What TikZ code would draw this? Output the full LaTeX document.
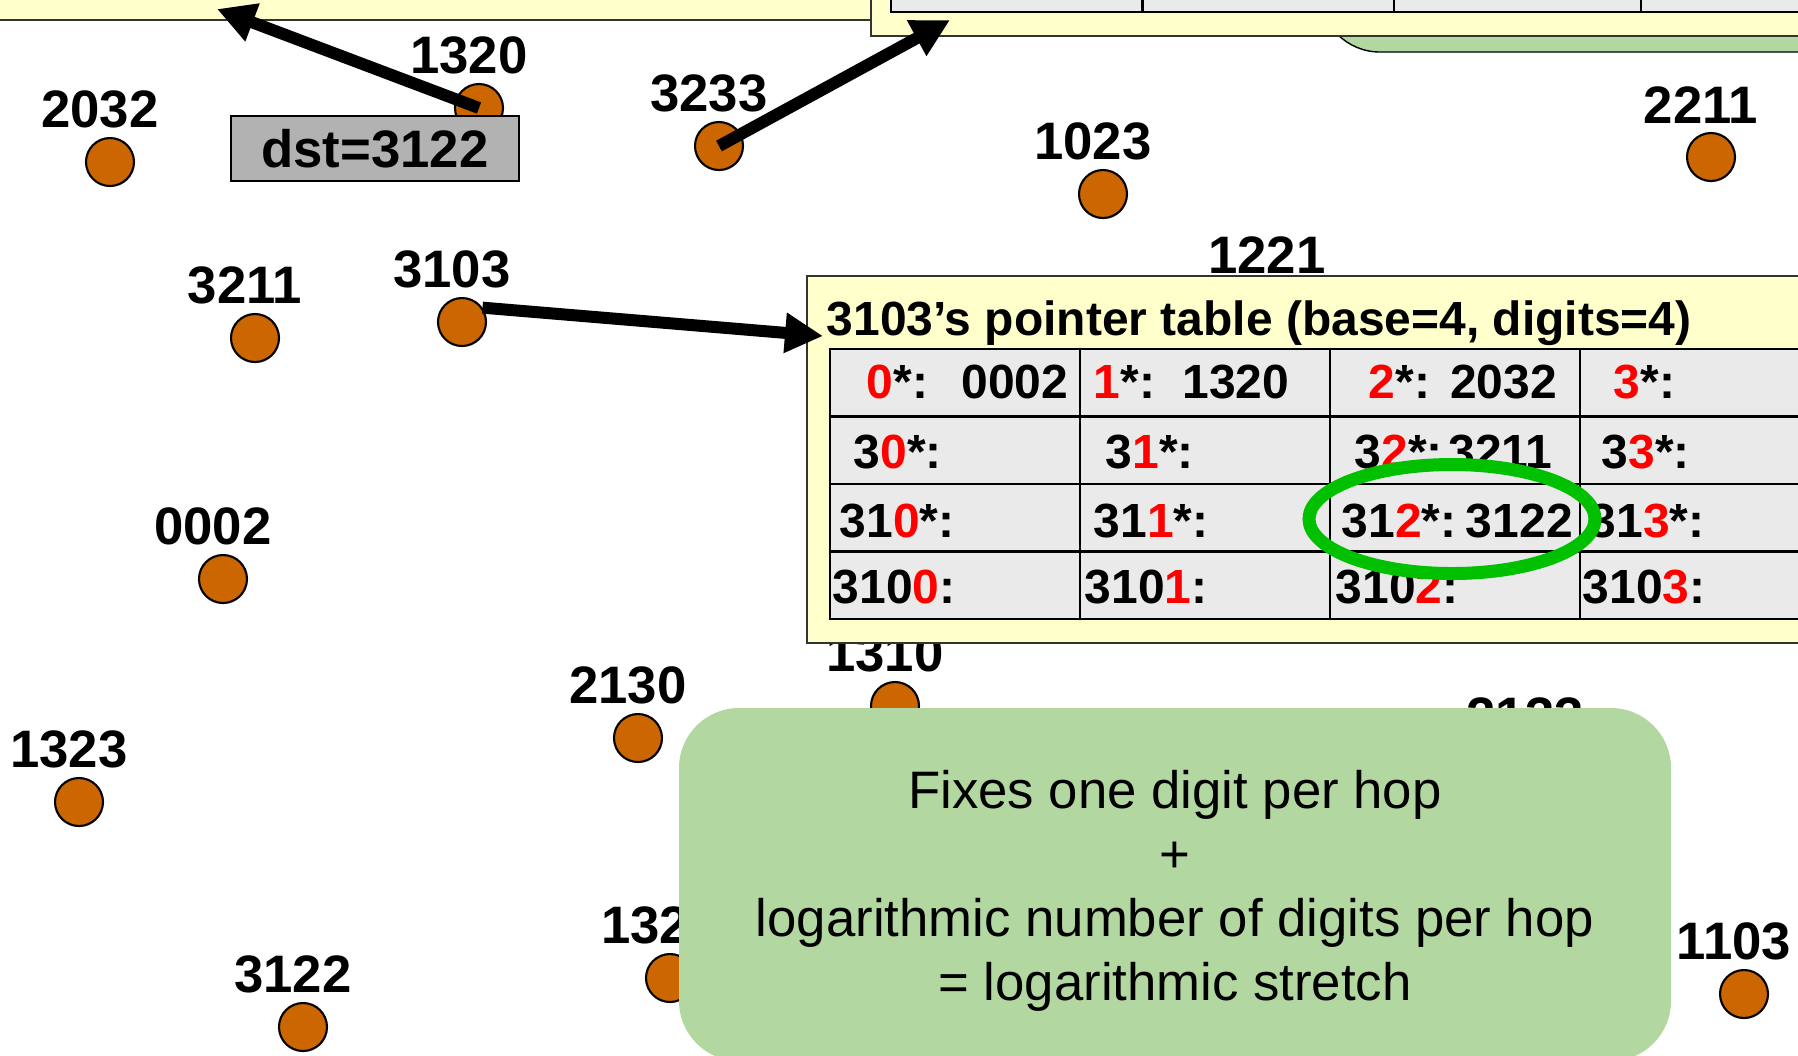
\documentclass[tikz,border=0pt]{standalone}
\usepackage{fontspec}
\setmainfont{Liberation Sans}
\usetikzlibrary{arrows.meta,shapes.geometric}

\definecolor{laranja}{RGB}{204,102,0}
\definecolor{amarelo}{RGB}{255,255,204}
\definecolor{celulacor}{RGB}{234,234,234}
\definecolor{verdeclaro}{RGB}{179,215,161}
\definecolor{verde}{RGB}{0,192,0}
\newcommand{\vm}[1]{\textcolor{red}{#1}}

\begin{document}
\begin{tikzpicture}[>={Triangle[length=3.8mm,width=3.8mm]}, label distance=0.8mm]
    % Estilos
    \tikzstyle{peer}=[circle, draw, line width=0.6pt, fill=laranja, inner sep=0pt, minimum size=4.8mm]
    \tikzstyle{every label}=[font=\fontsize{15}{18}\selectfont\bfseries, inner sep=0pt, xshift=-1mm]
    \tikzstyle{caixa}=[draw=black!80, line width=0.8pt, fill=amarelo]
    \tikzstyle{celula}=[draw, line width=0.6pt, fill=celulacor]
    \tikzstyle{texto}=[anchor=base west, inner sep=0pt, font=\fontsize{13.65}{16}\selectfont\bfseries]
    \tikzstyle{nota}=[fill=verdeclaro, rounded corners=6mm]
    \tikzstyle{salto}=[->, line width=1.2mm]

    \useasboundingbox (0,0) rectangle (17.98,-10.55);

    % Nós
    \node[peer, label=above:2032] (p2032) at (1.10,-1.62) {};
    \node[peer, label=above:1320] (p1320) at (4.79,-1.08) {};
    \node[peer, label=above:3233] (p3233) at (7.19,-1.46) {};
    \node[peer, label=above:1023] (p1023) at (11.03,-1.94) {};
    \node[peer, label=above:2211] (p2211) at (17.11,-1.57) {};
    \node[peer, label=above:3211] (p3211) at (2.55,-3.38) {};
    \node[peer, label=above:3103] (p3103) at (4.62,-3.22) {};
    \node[peer, label=above:1221] (p1221) at (12.77,-3.07) {};
    \node[peer, label=above:0002] (p0002) at (2.23,-5.79) {};
    \node[peer, label=above:2130] (p2130) at (6.38,-7.38) {};
    \node[peer, label=above:1310] (p1310) at (8.95,-7.06) {};
    \node[peer, label=above:2133] (p2133) at (15.35,-7.69) {};
    \node[peer, label=above:1323] (p1323) at (0.79,-8.02) {};
    \node[peer, label=above:1322] (p1322) at (6.70,-9.78) {};
    \node[peer, label=above:3122] (p3122) at (3.03,-10.27) {};
    \node[peer, label=above:1103] (p1103) at (17.44,-9.94) {};

    % Caixas de cima
    \draw[nota] (13.20,0.8) rectangle (19.0,-0.52);
    \draw[caixa] (-0.3,0.3) rectangle (8.72,-0.20);
    \draw[caixa] (8.71,0.3) rectangle (18.3,-0.36);
    \foreach \x in {8.91,11.43,13.94,16.41}
        \draw[celula] (\x,0.3) rectangle ++(2.51,-0.42);

    % Tabela de ponteiros
    \draw[caixa] (8.07,-2.76) rectangle (18.5,-6.43);
    \foreach \i in {0,...,3}
        \foreach \j in {0,...,3}
            \draw[celula] ({8.30+2.50*\j},{-3.49-0.675*\i}) rectangle ++(2.50,-0.675);
    \node[texto] (titulo) at (8.26,-3.35) {3103's pointer table (base=4, digits=4)};

    \node[texto] (c00) at (8.66,-3.98) {\vm{0}*:\hspace{0.7em}0002};
    \node[texto] (c01) at (10.93,-3.98) {\vm{1}*:\hspace{0.57em}1320};
    \node[texto] (c02) at (13.68,-3.98) {\vm{2}*:\hspace{0.42em}2032};
    \node[texto] (c03) at (16.13,-3.98) {\vm{3}*:};

    \node[texto] (c10) at (8.53,-4.68) {3\vm{0}*:};
    \node[texto] (c11) at (11.05,-4.68) {3\vm{1}*:};
    \node[texto] (c12) at (13.54,-4.68) {3\vm{2}*:\hspace{0.12em}3211};
    \node[texto] (c13) at (16.01,-4.68) {3\vm{3}*:};

    \node[texto] (c20) at (8.39,-5.37) {31\vm{0}*:};
    \node[texto] (c21) at (10.93,-5.37) {31\vm{1}*:};
    \node[texto] (c22) at (13.41,-5.37) {31\vm{2}*:\hspace{0.2em}3122};
    \node[texto] (c23) at (15.89,-5.37) {31\vm{3}*:};

    \node[texto] (c30) at (8.32,-6.03) {310\vm{0}:};
    \node[texto] (c31) at (10.84,-6.03) {310\vm{1}:};
    \node[texto] (c32) at (13.35,-6.03) {310\vm{2}:};
    \node[texto] (c33) at (15.82,-6.03) {310\vm{3}:};

    % Entrada usada
    \node[ellipse, draw=verde, line width=1.3mm, minimum width=2.86cm, minimum height=1.09cm] (achado) at (14.52,-5.19) {};

    % Nota
    \node[nota, minimum width=9.92cm, minimum height=3.53cm] (resumo) at (11.75,-8.845) {};
    \node[align=center, font=\fontsize{15}{18.2}\selectfont] (resumotxt) at (11.75,-8.91)
        {Fixes one digit per hop\\+\\logarithmic number of digits per hop\\= logarithmic stretch};

    % Destino
    \node[draw, line width=0.8pt, fill=black!30, minimum width=2.88cm, minimum height=0.65cm,
          font=\fontsize{15}{18}\selectfont\bfseries] (dst) at (3.75,-1.485) {dst=3122};

    % Setas
    \coordinate (alvo1) at (2.17,-0.09);
    \coordinate (alvo2) at (9.50,-0.20);
    \coordinate (alvo3) at (8.23,-3.36);
    \draw[salto] (p1320.center) -- (alvo1);
    \draw[salto] (p3233.center) -- (alvo2);
    \draw[salto] (p3103.35) -- (alvo3);
\end{tikzpicture}
\end{document}
